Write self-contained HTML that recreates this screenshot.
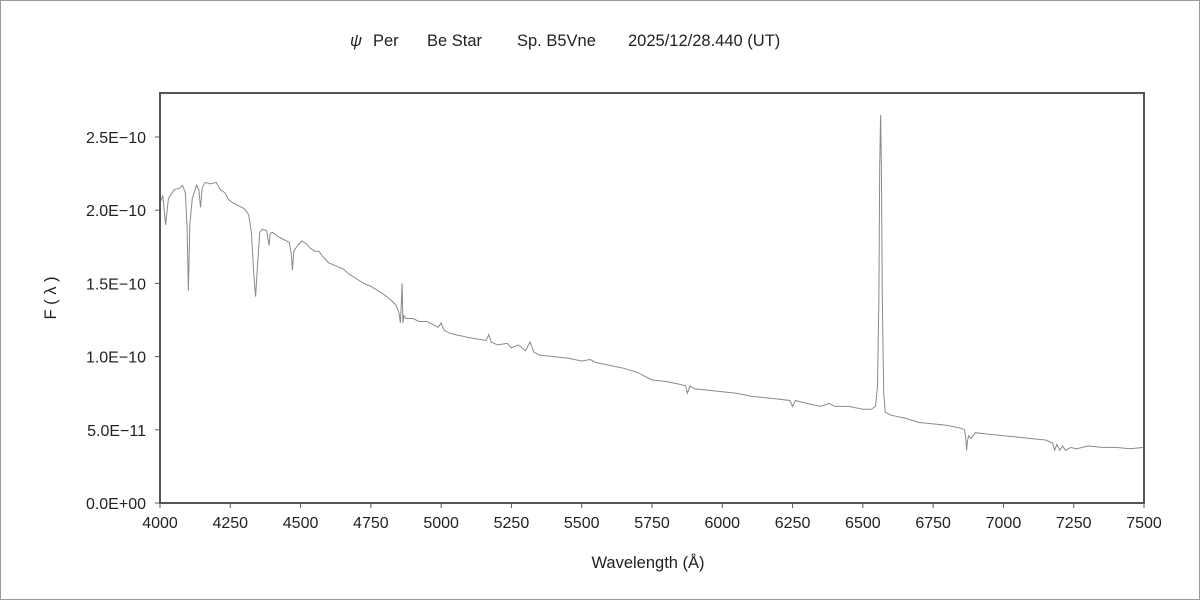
<!DOCTYPE html>
<html><head><meta charset="utf-8"><style>
html,body{margin:0;padding:0;background:#fff;}
#wrap{position:relative;width:1198px;height:598px;border:1px solid #999;overflow:hidden;}
svg{position:absolute;left:-1px;top:-1px;}
text{font-family:"Liberation Sans","Noto Sans CJK JP",sans-serif;fill:#222;}
</style></head><body>
<div id="wrap">
<svg id="chart" width="1200" height="600">
<g font-size="16.5">
<text x="350" y="46" font-style="italic">ψ</text><text x="373" y="46">Per</text>
<text x="427" y="46">Be Star</text>
<text x="517" y="46">Sp. B5Vne</text>
<text x="628" y="46">2025/12/28.440 (UT)</text>
</g>
<text x="648" y="568" font-size="16.5" text-anchor="middle">Wavelength (Å)</text>
<text x="0" y="0" font-size="16.5" text-anchor="middle" transform="translate(56,298) rotate(-90)">F ( λ )</text>
<g id="axes"></g>
<polyline id="spec" fill="none" stroke="#8a8a8a" stroke-width="1"/>
<rect x="160" y="93" width="984" height="410" fill="none" stroke="#555" stroke-width="2"/>
</svg>
</div>
<script>
const xTicks = [4000,4250,4500,4750,5000,5250,5500,5750,6000,6250,6500,6750,7000,7250,7500];
const yTicks = [0,0.5,1.0,1.5,2.0,2.5];
const yTickLabels = ["0.0E+00","5.0E−11","1.0E−10","1.5E−10","2.0E−10","2.5E−10"];
const wavelengths = [4000,4010,4020,4030,4050,4070,4080,4090,4096,4101,4106,4115,4130,4138,4144,4150,4160,4180,4200,4215,4230,4245,4260,4280,4300,4315,4325,4334,4340,4346,4355,4365,4380,4385,4388,4392,4400,4420,4440,4460,4467,4471,4476,4490,4505,4520,4535,4550,4565,4580,4600,4625,4650,4675,4700,4725,4750,4775,4800,4825,4840,4850,4855,4858,4861,4864,4867,4875,4900,4921,4950,4990,5000,5010,5030,5050,5100,5160,5169,5178,5200,5235,5250,5275,5300,5316,5330,5350,5400,5450,5500,5530,5550,5600,5650,5700,5750,5800,5850,5870,5876,5885,5900,5950,6000,6050,6100,6150,6200,6240,6250,6260,6300,6350,6380,6400,6450,6500,6530,6545,6552,6557,6560,6563,6566,6569,6574,6580,6600,6650,6700,6750,6800,6850,6862,6866,6869,6872,6876,6885,6900,6950,7000,7050,7100,7150,7175,7182,7190,7200,7210,7220,7240,7260,7300,7350,7400,7450,7500];
const fluxes = [2.05,2.10,1.90,2.08,2.14,2.15,2.17,2.12,1.90,1.45,1.90,2.08,2.17,2.14,2.02,2.15,2.19,2.18,2.19,2.14,2.12,2.07,2.05,2.03,2.01,1.97,1.85,1.55,1.41,1.60,1.85,1.87,1.86,1.79,1.76,1.84,1.85,1.82,1.80,1.78,1.70,1.59,1.72,1.76,1.79,1.77,1.74,1.72,1.72,1.68,1.64,1.62,1.60,1.56,1.53,1.50,1.48,1.45,1.42,1.38,1.35,1.30,1.23,1.35,1.50,1.23,1.28,1.26,1.26,1.24,1.24,1.20,1.23,1.18,1.16,1.15,1.13,1.11,1.15,1.10,1.08,1.09,1.06,1.08,1.04,1.10,1.03,1.01,1.00,0.99,0.97,0.98,0.96,0.94,0.92,0.89,0.84,0.83,0.81,0.80,0.75,0.80,0.78,0.77,0.76,0.75,0.73,0.72,0.71,0.70,0.66,0.70,0.68,0.66,0.68,0.66,0.66,0.64,0.64,0.66,0.80,1.40,2.30,2.65,2.30,1.40,0.75,0.62,0.60,0.58,0.55,0.54,0.53,0.51,0.50,0.44,0.36,0.42,0.46,0.44,0.48,0.47,0.46,0.45,0.44,0.43,0.41,0.36,0.40,0.36,0.39,0.36,0.38,0.37,0.39,0.38,0.38,0.37,0.38,0.37,0.37];
const X0=160,X1=1144,Y0=503,Y1=137;
function xs(w){return X0+(w-4000)*(X1-X0)/3500;}
function ys(f){return Y0-f*(Y0-Y1)/2.5;}
const ns="http://www.w3.org/2000/svg";
const ax=document.getElementById('axes');
xTicks.forEach(t=>{
  const l=document.createElementNS(ns,'line');
  l.setAttribute('x1',xs(t));l.setAttribute('x2',xs(t));l.setAttribute('y1',503);l.setAttribute('y2',508);l.setAttribute('stroke','#555');
  
  
  ax.appendChild(l);
  const tx=document.createElementNS(ns,'text');
  tx.setAttribute('x',xs(t));tx.setAttribute('y',528);tx.setAttribute('font-size','16');tx.setAttribute('text-anchor','middle');
  tx.textContent=t;
  
  
  ax.appendChild(tx);
});
yTicks.forEach((t,i)=>{
  const l=document.createElementNS(ns,'line');
  l.setAttribute('x1',155);l.setAttribute('x2',160);l.setAttribute('y1',ys(t));l.setAttribute('y2',ys(t));l.setAttribute('stroke','#555');
  
  
  ax.appendChild(l);
  const tx=document.createElementNS(ns,'text');
  tx.setAttribute('x',146);tx.setAttribute('y',ys(t)+6);tx.setAttribute('font-size','16');tx.setAttribute('text-anchor','end');
  tx.textContent=yTickLabels[i];
  
  
  ax.appendChild(tx);
});
document.getElementById('spec').setAttribute('points',wavelengths.map((w,i)=>xs(w).toFixed(1)+','+ys(fluxes[i]).toFixed(1)).join(' '));
</script>
</body></html>
